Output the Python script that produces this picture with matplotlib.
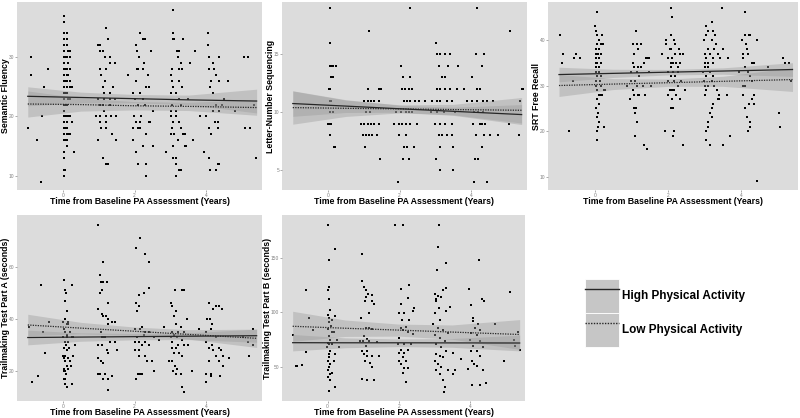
"""
Cognitive outcomes vs. time from baseline PA assessment
High / Low physical activity groups with linear fits
"""
import matplotlib
matplotlib.use('Agg')
import matplotlib.pyplot as plt
from matplotlib.patches import Patch
from matplotlib.lines import Line2D

plt.rcParams['font.family'] = ['Liberation Sans', 'DejaVu Sans']

XLABEL = 'Time from Baseline PA Assessment (Years)'
LEGEND_LABELS = ['High Physical Activity', 'Low Physical Activity']

# x positions of the fitted lines / confidence bands
fit_x = [-0.98, 0.5, 2.0, 3.5, 5.4]

# ---- Semantic Fluency ----
sem_pts = [
    (-0.89, 30), (-0.89, 27), (-0.96, 18), (-0.71, 16), (-0.60, 9), (-0.59, 20), (-0.52, 25), (-0.41, 28),
    (0.02, 37), (0.02, 36), (0.02, 34), (0.02, 33), (0.02, 32), (0.02, 31), (0.02, 30), (0.02, 29),
    (0.02, 28), (0.02, 27), (0.02, 26), (0.02, 25), (0.02, 24), (0.02, 23), (0.02, 22), (0.02, 21),
    (0.02, 20), (0.02, 19), (0.02, 18), (0.02, 17), (0.02, 16), (0.02, 14), (0.02, 13), (0.02, 11), (0.02, 10),
    (0.06, 30), (0.06, 28), (0.06, 26), (0.06, 24), (0.06, 22), (0.06, 20), (0.06, 18), (0.06, 16), (0.06, 11),
    (0.10, 34), (0.10, 33), (0.10, 32), (0.10, 30), (0.10, 28), (0.10, 27), (0.10, 26), (0.10, 25),
    (0.10, 24), (0.10, 22), (0.10, 20), (0.10, 19), (0.10, 18), (0.10, 17), (0.10, 16), (0.10, 15),
    (0.15, 31), (0.15, 29), (0.15, 27), (0.15, 23), (0.15, 20), (0.15, 17),
    (0.19, 31), (0.19, 30), (0.19, 28), (0.19, 26), (0.19, 25), (0.19, 23), (0.19, 20), (0.19, 17),
    (0.24, 25), (0.24, 19), (0.31, 14),
    (0.98, 32), (1.03, 32), (1.12, 31), (1.21, 35), (1.26, 33), (1.03, 31), (1.17, 30), (1.31, 30),
    (1.44, 29), (1.31, 29), (1.03, 28), (1.21, 28), (1.07, 27), (1.17, 26), (1.12, 25), (1.40, 25),
    (1.14, 24), (1.31, 24), (0.99, 23), (1.14, 23), (1.31, 23), (1.44, 23), (1.12, 22), (1.31, 22),
    (0.92, 20), (1.03, 20), (1.19, 20), (1.35, 20), (1.49, 20), (1.03, 19), (1.21, 19), (1.07, 18),
    (1.19, 18), (0.99, 16), (1.47, 16), (1.38, 17), (1.12, 13), (1.21, 12), (1.27, 12), (1.04, 22), (1.14, 21),
    (2.14, 34), (2.05, 32), (2.07, 31), (2.23, 33), (2.28, 33), (2.12, 30), (2.25, 29), (2.46, 31),
    (1.81, 27), (2.06, 28), (2.09, 28), (2.23, 28), (2.37, 27), (2.05, 26), (2.32, 25), (2.40, 25),
    (1.94, 24), (2.14, 24), (2.00, 23), (2.23, 23), (2.09, 22), (2.28, 22), (2.51, 21), (1.97, 20),
    (2.19, 20), (2.03, 19), (2.14, 19), (2.39, 19), (2.42, 19), (1.94, 18), (2.09, 18), (2.14, 18),
    (2.31, 17), (2.23, 15), (2.51, 15), (2.05, 14), (2.09, 12), (2.31, 12), (2.32, 10), (1.94, 16),
    (3.06, 38), (3.06, 34), (3.06, 33), (3.11, 33), (3.18, 31), (3.25, 31), (3.20, 30), (3.30, 29),
    (3.53, 29), (3.05, 28), (3.25, 28), (3.32, 28), (3.02, 27), (3.05, 26), (3.25, 26), (3.08, 25),
    (3.32, 25), (3.02, 24), (3.16, 24), (3.23, 23), (3.48, 23), (3.05, 22), (3.30, 22), (3.00, 21),
    (3.14, 21), (3.02, 20), (3.14, 20), (3.06, 19), (3.25, 19), (3.05, 18), (3.30, 18), (3.02, 17),
    (3.11, 17), (3.34, 17), (3.20, 16), (3.39, 17), (3.06, 15), (3.39, 15), (3.44, 15), (2.88, 14),
    (3.06, 13), (3.16, 13), (3.25, 11), (3.30, 11), (3.16, 12), (3.14, 10), (3.67, 31), (3.62, 16), (3.36, 33),
    (4.04, 34), (4.04, 32), (4.36, 30), (4.08, 30), (4.18, 29), (4.06, 28), (4.22, 28), (4.27, 27),
    (4.13, 26), (4.36, 26), (4.59, 26), (4.10, 25), (4.18, 24), (4.50, 23), (4.27, 22), (4.36, 21),
    (4.19, 21), (4.25, 19), (4.31, 19), (4.08, 18), (4.31, 18), (3.81, 20), (4.13, 17), (3.92, 14),
    (4.06, 13), (4.31, 12), (4.36, 12), (4.10, 11), (4.27, 11), (3.99, 20), (4.44, 22),
    (5.06, 30), (5.15, 30), (5.08, 18), (5.21, 18), (5.38, 13), (4.79, 21), (5.33, 22),
]
sem_high_fit = [23.4, 23.2, 23.0, 22.8, 22.6]
sem_high_lo = [21.8, 22.3, 22.3, 22.0, 20.6]
sem_high_hi = [25.0, 24.1, 23.7, 23.6, 24.6]
sem_low_fit = [22.1, 22.0, 21.8, 21.7, 21.5]
sem_low_lo = [19.9, 20.9, 21.1, 21.0, 20.2]
sem_low_hi = [24.3, 23.1, 22.5, 22.4, 22.8]

# ---- Letter-Number Sequencing ----
lns_pts = [
    (0.05, 19), (0.06, 16), (0.05, 14), (0.09, 14), (0.14, 14), (0.23, 14), (0.09, 13), (0.14, 13),
    (0.03, 12), (0.07, 12), (0.05, 11), (0.09, 11), (0.07, 10), (0.14, 10), (0.00, 9), (0.05, 9),
    (0.09, 9), (0.06, 8), (0.18, 7), (0.20, 7),
    (1.15, 17), (1.11, 12), (1.01, 11), (1.11, 11), (1.20, 11), (1.29, 11), (1.43, 11), (1.06, 10),
    (1.18, 10), (0.92, 9), (1.01, 9), (1.11, 9), (1.20, 9), (1.29, 9), (1.43, 9), (0.97, 8),
    (1.06, 8), (1.15, 8), (1.24, 8), (1.38, 8), (1.04, 7), (1.46, 6), (1.43, 12), (1.47, 12),
    (2.29, 19), (2.03, 14), (2.10, 13), (2.30, 13), (2.07, 12), (2.16, 12), (2.26, 12), (2.35, 12),
    (2.12, 11), (2.21, 11), (2.30, 11), (2.44, 11), (2.53, 11), (1.89, 10), (2.03, 10), (2.17, 10),
    (2.26, 10), (2.35, 10), (1.84, 9), (1.98, 9), (2.07, 9), (2.17, 9), (2.30, 9), (2.49, 9),
    (1.98, 8), (2.17, 8), (2.12, 7), (2.21, 7), (2.41, 7), (2.10, 6), (2.26, 6), (1.94, 4),
    (2.72, 11), (2.86, 10),
    (3.02, 16), (3.04, 15), (3.13, 15), (3.27, 15), (3.41, 15), (3.09, 14), (3.36, 14), (3.64, 14),
    (3.18, 13), (3.27, 13), (3.04, 12), (3.13, 12), (3.27, 12), (3.41, 12), (3.59, 12), (3.78, 12),
    (2.90, 11), (3.04, 11), (3.13, 11), (3.32, 11), (3.46, 11), (3.04, 10), (3.23, 10), (3.55, 10),
    (2.99, 9), (3.13, 9), (3.27, 9), (3.46, 9), (3.09, 8), (3.18, 8), (3.32, 8), (3.46, 8),
    (3.13, 7), (3.50, 7), (3.02, 6), (3.13, 5), (3.48, 5), (3.87, 11),
    (4.15, 19), (4.13, 15), (4.35, 15), (4.29, 14), (4.03, 13), (4.15, 12), (4.24, 12), (4.01, 11),
    (4.15, 11), (4.33, 11), (4.44, 11), (4.06, 10), (4.19, 10), (4.33, 10), (4.04, 9), (4.24, 9),
    (4.29, 9), (4.38, 9), (4.13, 8), (4.35, 8), (4.52, 8), (4.75, 8), (4.29, 7), (4.10, 6),
    (4.19, 6), (4.08, 4), (4.44, 4), (4.61, 11),
    (5.07, 17), (5.05, 9), (5.33, 8), (5.42, 12), (5.44, 12), (5.35, 11),
]
lns_high_fit = [10.75, 10.53, 10.30, 10.08, 9.80]
lns_high_lo = [9.65, 9.98, 10.00, 9.73, 8.94]
lns_high_hi = [11.85, 11.08, 10.60, 10.43, 10.66]
lns_low_fit = [10.40, 10.34, 10.29, 10.23, 10.17]
lns_low_lo = [8.97, 9.64, 9.94, 9.78, 9.07]
lns_low_hi = [11.83, 11.04, 10.64, 10.68, 11.27]

# ---- SRT Free Recall ----
srt_pts = [
    (-0.95, 41), (-0.88, 37), (-0.90, 35), (-0.70, 20), (-0.60, 31), (-0.58, 36), (-0.51, 37), (-0.40, 36),
    (0.06, 46), (0.00, 43), (0.04, 42), (0.06, 41), (0.11, 40), (0.20, 41), (0.06, 39), (0.16, 39),
    (0.02, 38), (0.11, 38), (0.04, 37), (0.09, 37), (0.16, 37), (0.02, 36), (0.11, 36), (0.02, 35),
    (0.06, 35), (0.16, 35), (0.04, 34), (0.11, 34), (0.02, 33), (0.11, 33), (0.06, 32), (0.16, 32),
    (0.02, 31), (0.13, 31), (0.04, 30), (0.17, 30), (0.06, 29), (0.25, 29), (0.29, 29), (0.11, 28),
    (0.16, 28), (0.20, 28), (0.06, 27), (0.11, 26), (0.02, 25), (0.09, 24), (0.05, 23), (0.11, 22),
    (0.08, 21), (0.25, 21), (0.06, 20), (0.05, 18), (0.23, 39),
    (1.12, 42), (1.03, 39), (1.15, 39), (1.17, 38), (1.26, 39), (1.08, 37), (1.40, 36), (1.45, 36),
    (1.35, 35), (1.03, 35), (1.15, 33), (1.26, 34), (1.08, 34), (1.17, 34), (1.49, 33), (0.98, 33),
    (1.21, 32), (1.10, 31), (0.98, 31), (1.15, 30), (1.31, 30), (0.89, 30), (1.03, 29), (1.08, 28),
    (1.17, 28), (1.21, 28), (1.38, 28), (0.97, 27), (1.08, 25), (1.12, 25), (1.10, 24), (1.15, 22),
    (1.10, 19), (1.35, 17), (1.43, 16), (1.54, 30), (1.49, 36),
    (2.07, 47), (2.11, 45), (1.95, 40), (2.09, 41), (2.16, 40), (2.20, 39), (2.04, 38), (2.09, 38),
    (2.29, 38), (2.18, 37), (1.84, 37), (2.00, 36), (2.12, 36), (2.32, 37), (2.41, 37), (2.09, 35),
    (2.14, 35), (2.23, 35), (2.32, 35), (2.09, 34), (2.27, 34), (2.00, 33), (2.13, 33), (2.27, 33),
    (2.07, 32), (2.18, 32), (2.00, 31), (2.16, 31), (2.36, 31), (2.04, 29), (2.09, 29), (2.13, 29),
    (2.16, 29), (2.27, 30), (2.45, 29), (2.01, 28), (2.22, 28), (2.11, 27), (2.32, 27), (2.07, 25),
    (2.13, 25), (1.92, 20), (2.16, 20), (2.13, 19), (2.41, 17), (1.95, 39),
    (3.03, 43), (3.19, 44), (3.10, 42), (3.05, 41), (3.24, 42), (3.28, 41), (2.99, 40), (3.19, 40),
    (3.30, 39), (3.08, 38), (3.26, 38), (3.49, 38), (3.51, 38), (3.01, 37), (3.15, 37), (3.37, 37),
    (3.05, 36), (3.24, 36), (3.42, 36), (3.01, 35), (3.10, 35), (3.24, 35), (3.01, 34), (3.10, 34),
    (2.96, 33), (3.15, 33), (3.05, 32), (3.24, 32), (2.99, 31), (3.19, 31), (3.01, 30), (3.10, 30),
    (3.26, 30), (3.05, 29), (3.33, 29), (3.01, 28), (3.38, 28), (3.61, 28), (3.36, 27), (3.40, 27),
    (3.24, 26), (3.19, 25), (3.15, 24), (3.19, 23), (3.08, 22), (3.10, 21), (3.05, 20), (3.05, 18),
    (3.15, 17), (3.49, 17), (3.47, 47), (3.70, 19), (3.65, 36),
    (4.09, 46), (4.11, 41), (4.02, 40), (4.13, 39), (4.16, 38), (4.04, 37), (4.18, 37), (4.04, 36),
    (4.28, 35), (4.34, 35), (4.11, 34), (3.93, 33), (4.18, 33), (4.25, 32), (4.06, 30), (4.11, 30),
    (4.29, 31), (4.04, 28), (4.20, 26), (4.34, 26), (4.09, 25), (4.16, 23), (4.25, 22), (4.23, 21),
    (4.18, 20), (4.29, 27), (4.43, 40), (4.20, 41), (4.25, 41), (4.34, 28), (4.43, 9),
    (4.74, 34), (5.03, 24), (5.05, 21), (5.14, 36), (5.20, 35), (5.31, 35), (5.35, 31),
]
srt_high_fit = [32.4, 32.66, 32.92, 33.17, 33.5]
srt_high_lo = [30.8, 31.76, 32.32, 32.47, 32.0]
srt_high_hi = [34.0, 33.56, 33.52, 33.87, 35.0]
srt_low_fit = [30.0, 30.31, 30.61, 30.92, 31.3]
srt_low_lo = [27.6, 29.11, 29.81, 29.82, 28.7]
srt_low_hi = [32.4, 31.51, 31.41, 32.02, 33.9]

# ---- Trailmaking Test Part A ----
tmta_pts = [
    (-0.95, 37), (-0.86, 16), (-0.69, 18), (-0.60, 53), (-0.55, 35), (-0.50, 27), (-0.39, 39),
    (0.04, 55), (0.06, 51), (0.08, 50), (0.07, 47), (0.10, 43), (0.06, 40), (0.01, 39), (0.10, 38),
    (0.04, 36), (0.07, 35), (0.11, 34), (0.01, 33), (0.06, 31), (0.08, 30), (0.03, 29), (0.10, 28),
    (0.06, 26), (0.02, 25), (0.07, 24), (0.10, 22), (0.04, 21), (0.06, 20), (0.08, 19), (0.02, 17),
    (0.07, 17), (0.06, 15), (0.10, 14), (0.15, 38), (0.20, 35), (0.24, 33), (0.18, 29), (0.15, 25),
    (0.20, 24), (0.22, 22), (0.29, 26), (0.24, 53), (0.29, 33), (0.26, 15), (0.34, 30), (0.15, 39),
    (0.10, 33), (0.13, 31), (0.01, 26), (0.15, 21), (0.04, 20),
    (0.99, 76), (1.11, 62), (1.04, 57), (1.06, 54), (1.13, 54), (1.22, 54), (1.04, 50), (1.10, 51),
    (1.27, 46), (0.97, 44), (1.08, 42), (1.13, 41), (1.20, 41), (1.27, 40), (1.36, 39), (1.25, 38),
    (1.46, 39), (1.07, 35), (1.13, 33), (1.18, 33), (1.32, 31), (1.46, 31), (0.99, 30), (1.10, 30),
    (1.22, 28), (1.25, 27), (0.99, 25), (1.07, 24), (1.13, 23), (0.97, 19), (1.04, 19), (1.13, 17),
    (1.27, 17), (1.18, 19), (1.25, 13), (1.36, 18), (1.08, 33), (1.50, 28),
    (2.14, 71), (2.05, 67), (2.30, 65), (2.41, 62), (2.39, 52), (2.25, 50), (2.13, 49), (2.04, 46),
    (2.11, 45), (2.07, 43), (2.21, 37), (2.02, 36), (2.16, 36), (2.30, 35), (2.39, 35), (2.07, 33),
    (2.25, 34), (2.00, 31), (2.11, 31), (2.21, 30), (2.30, 31), (2.39, 30), (2.00, 28), (2.11, 28),
    (2.28, 26), (2.35, 24), (2.47, 24), (2.53, 20), (2.09, 19), (2.16, 19), (2.21, 19), (2.04, 17),
    (2.11, 26), (2.53, 33), (2.67, 32), (2.81, 37),
    (3.00, 46), (3.05, 45), (3.12, 51), (3.37, 51), (3.33, 51), (3.14, 43), (3.09, 41), (3.14, 38),
    (3.28, 37), (3.03, 35), (3.21, 35), (3.37, 35), (3.09, 34), (3.00, 33), (3.19, 33), (3.33, 32),
    (3.05, 31), (3.21, 30), (3.37, 30), (3.03, 29), (3.16, 29), (3.09, 27), (3.23, 27), (3.33, 26),
    (3.03, 24), (3.12, 22), (3.19, 21), (3.07, 20), (3.16, 19), (3.28, 19), (3.33, 14), (3.37, 12),
    (3.47, 40), (3.50, 30), (3.61, 20), (3.79, 36), (2.95, 24),
    (4.06, 46), (4.26, 45), (4.36, 45), (4.19, 44), (4.43, 44), (4.03, 40), (4.09, 40), (4.17, 38),
    (4.00, 35), (4.12, 36), (4.26, 33), (4.00, 31), (4.15, 30), (4.36, 29), (4.06, 29), (4.19, 28),
    (4.40, 28), (4.28, 26), (4.45, 26), (4.07, 24), (4.36, 24), (4.00, 19), (4.12, 19), (4.37, 18),
    (4.00, 16), (4.12, 18), (4.45, 22), (4.64, 25),
    (5.01, 33), (5.15, 31), (5.29, 36), (5.31, 30), (5.20, 26),
]
tmta_high_fit = [32.9, 33.07, 33.23, 33.4, 33.6]
tmta_high_lo = [30.1, 31.47, 32.03, 32.1, 31.1]
tmta_high_hi = [35.7, 34.67, 34.43, 34.7, 36.1]
tmta_low_fit = [37.7, 36.5, 35.3, 34.1, 32.6]
tmta_low_lo = [33.6, 34.3, 33.7, 32.3, 29.1]
tmta_low_hi = [41.8, 38.7, 36.9, 35.9, 36.1]

# ---- Trailmaking Test Part B ----
tmtb_pts = [
    (-0.98, 79), (-0.90, 51), (-0.87, 51), (-0.71, 52), (-0.61, 120), (-0.61, 64), (-0.52, 95), (-0.42, 84),
    (0.00, 180), (0.03, 148), (0.22, 158), (0.05, 123), (0.01, 120), (0.03, 112), (0.08, 102), (0.01, 98),
    (0.03, 95), (0.05, 91), (0.09, 88), (0.01, 85), (0.12, 82), (0.03, 78), (0.08, 75), (0.01, 72),
    (0.05, 71), (-0.01, 68), (0.08, 65), (0.03, 62), (0.05, 59), (0.01, 56), (0.08, 53), (0.03, 50),
    (0.01, 47), (0.06, 44), (0.01, 41), (0.08, 38), (0.03, 28), (0.22, 32), (0.17, 82), (0.12, 71),
    (0.26, 75), (0.22, 62), (0.17, 56), (0.31, 68), (0.12, 45), (0.22, 97), (0.12, 93),
    (0.97, 153), (0.96, 129), (1.02, 123), (1.07, 120), (1.14, 117), (1.09, 114), (1.24, 116), (1.05, 110),
    (1.24, 110), (1.30, 108), (1.16, 99), (0.93, 95), (1.07, 86), (1.16, 86), (1.24, 85), (1.02, 78),
    (1.12, 76), (0.99, 74), (1.16, 74), (1.07, 69), (1.12, 65), (0.97, 65), (1.02, 62), (1.12, 60),
    (1.05, 56), (1.18, 54), (1.24, 50), (0.96, 39), (1.12, 38), (1.30, 38), (1.40, 73), (1.45, 60),
    (1.26, 60), (0.91, 74),
    (1.90, 180), (2.13, 180), (2.06, 121), (2.25, 113), (2.28, 125), (2.39, 101), (2.42, 104), (2.06, 108),
    (2.01, 99), (2.16, 99), (2.30, 93), (2.09, 93), (2.20, 87), (2.06, 86), (2.11, 84), (2.25, 82),
    (2.39, 80), (2.01, 77), (2.16, 71), (2.35, 71), (2.06, 66), (2.25, 66), (2.01, 63), (2.16, 63),
    (2.11, 59), (2.01, 56), (2.20, 56), (2.06, 53), (2.16, 49), (2.25, 49), (2.11, 45), (2.20, 36),
    (1.97, 71),
    (3.13, 180), (3.10, 160), (3.08, 139), (3.32, 145), (3.34, 122), (3.24, 120), (3.01, 117), (3.10, 115),
    (3.04, 112), (3.20, 114), (3.05, 110), (3.45, 105), (3.13, 104), (3.01, 99), (3.17, 93), (2.96, 89),
    (3.10, 86), (3.24, 84), (3.39, 81), (3.01, 79), (3.15, 77), (3.29, 74), (3.05, 71), (3.20, 68),
    (3.34, 65), (3.04, 62), (3.15, 60), (3.24, 59), (3.01, 56), (3.10, 53), (3.20, 50), (3.05, 47),
    (3.15, 44), (3.24, 38), (3.29, 32), (3.26, 27), (3.53, 63), (3.57, 47), (3.39, 47), (3.34, 101),
    (3.98, 121), (4.26, 148), (4.02, 107), (4.33, 112), (4.40, 110), (4.09, 95), (4.08, 92), (4.24, 89),
    (4.14, 86), (4.28, 84), (4.02, 81), (4.19, 79), (4.00, 75), (4.28, 74), (4.09, 69), (4.38, 68),
    (4.02, 65), (4.21, 65), (4.28, 60), (4.05, 56), (4.11, 53), (3.95, 48), (4.19, 51), (4.05, 34),
    (4.28, 34), (4.45, 35), (4.36, 47), (3.76, 57), (3.53, 44), (4.71, 89),
    (5.13, 119), (5.23, 75), (4.97, 56), (5.28, 69), (5.34, 82), (5.42, 66),
]
tmtb_high_fit = [72.3, 72.2, 72.2, 72.1, 72.0]
tmtb_high_lo = [64.8, 67.7, 68.7, 68.1, 64.8]
tmtb_high_hi = [79.8, 76.7, 75.7, 76.1, 79.2]
tmtb_low_fit = [87.3, 85.5, 83.8, 82.0, 79.8]
tmtb_low_lo = [73.6, 78.0, 78.3, 75.5, 66.2]
tmtb_low_hi = [101.0, 93.0, 89.3, 88.5, 93.4]

BG = '#DCDCDC'
BAND = '#999999'
LINE = '#262626'


def px_box(left, right, top, bottom):
    """pixel box (800x418) -> figure fraction"""
    return [left / 800, 1 - bottom / 418, (right - left) / 800, (bottom - top) / 418]


def draw_panel(ax, box, pts, ylabel, yticks, ylim,
               hi_fit, hi_lo, hi_hi, lo_fit, lo_lo, lo_hi, ylab_off=7):
    ax.set_facecolor(BG)
    for sp in ax.spines.values():
        sp.set_visible(False)

    xs = [p[0] for p in pts]
    ys = [p[1] for p in pts]
    ax.scatter(xs, ys, s=3.5, marker='s', c='black', linewidths=0, zorder=2)

    # confidence bands
    ax.fill_between(fit_x, hi_lo, hi_hi, color=BAND, alpha=0.4, lw=0, zorder=3)
    ax.fill_between(fit_x, lo_lo, lo_hi, color=BAND, alpha=0.4, lw=0, zorder=3)
    # fitted lines
    ax.plot(fit_x, hi_fit, color=LINE, lw=0.9, zorder=4)
    ax.plot(fit_x, lo_fit, color=LINE, lw=0.9, ls=(0, (1, 1)), zorder=4)

    ax.set_xlim(-1.28, 5.55)
    ax.set_ylim(ylim)
    ax.set_xticks([0, 2, 4])
    ax.set_yticks(yticks)
    ax.tick_params(length=1.5, width=0.5, color='#888888', labelsize=3.5,
                   labelcolor='#808080', pad=0.5)
    ax.set_xlabel(XLABEL, fontsize=6.3, fontweight='bold')
    ax.set_ylabel(ylabel, fontsize=6.3, fontweight='bold')
    # label positions in pixels from the panel edges
    w = box[1] - box[0]
    h = box[3] - box[2]
    ax.xaxis.set_label_coords(0.5, -7 / h)
    ax.yaxis.set_label_coords(-ylab_off / w, 0.5)


fig = plt.figure(figsize=(8, 4.18), dpi=100)

b1 = (17, 262, 2, 190)
ax1 = fig.add_axes(px_box(*b1))
draw_panel(ax1, b1, sem_pts, 'Semantic Fluency', [10, 20, 30], (7.6, 39.3),
           sem_high_fit, sem_high_lo, sem_high_hi, sem_low_fit, sem_low_lo, sem_low_hi)

b2 = (282, 527, 2, 190)
ax2 = fig.add_axes(px_box(*b2))
draw_panel(ax2, b2, lns_pts, 'Letter-Number Sequencing', [5, 10, 15], (3.3, 19.5),
           lns_high_fit, lns_high_lo, lns_high_hi, lns_low_fit, lns_low_lo, lns_low_hi)

b3 = (548, 798, 2, 190)
ax3 = fig.add_axes(px_box(*b3))
draw_panel(ax3, b3, srt_pts, 'SRT Free Recall', [10, 20, 30, 40], (7.1, 48.3),
           srt_high_fit, srt_high_lo, srt_high_hi, srt_low_fit, srt_low_lo, srt_low_hi)

b4 = (17, 262, 215, 401)
ax4 = fig.add_axes(px_box(*b4))
draw_panel(ax4, b4, tmta_pts, 'Trailmaking Test Part A (seconds)', [20, 40, 60], (8.6, 79.8),
           tmta_high_fit, tmta_high_lo, tmta_high_hi, tmta_low_fit, tmta_low_lo, tmta_low_hi)

b5 = (282, 525, 215, 401)
ax5 = fig.add_axes(px_box(*b5))
draw_panel(ax5, b5, tmtb_pts, 'Trailmaking Test Part B (seconds)', [50, 100, 150], (19, 189),
           tmtb_high_fit, tmtb_high_lo, tmtb_high_hi, tmtb_low_fit, tmtb_low_lo, tmtb_low_hi,
           ylab_off=10.5)

# legend: grey key boxes with line samples
key = '#C6C6C6'
handles = [
    (Patch(facecolor=key, edgecolor='white', linewidth=0.6), Line2D([], [], color=LINE, lw=1.0)),
    (Patch(facecolor=key, edgecolor='white', linewidth=0.6), Line2D([], [], color=LINE, lw=1.0, ls=(0, (1, 1)))),
]
fig.legend(handles, LEGEND_LABELS, loc='upper left', bbox_to_anchor=(585 / 800, 1 - 279 / 418),
           frameon=False, handlelength=2.9, handleheight=4.05, labelspacing=0.0,
           handletextpad=0.25, borderpad=0, borderaxespad=0,
           prop={'weight': 'bold', 'size': 8.5})

fig.savefig('out.png', dpi=100)
